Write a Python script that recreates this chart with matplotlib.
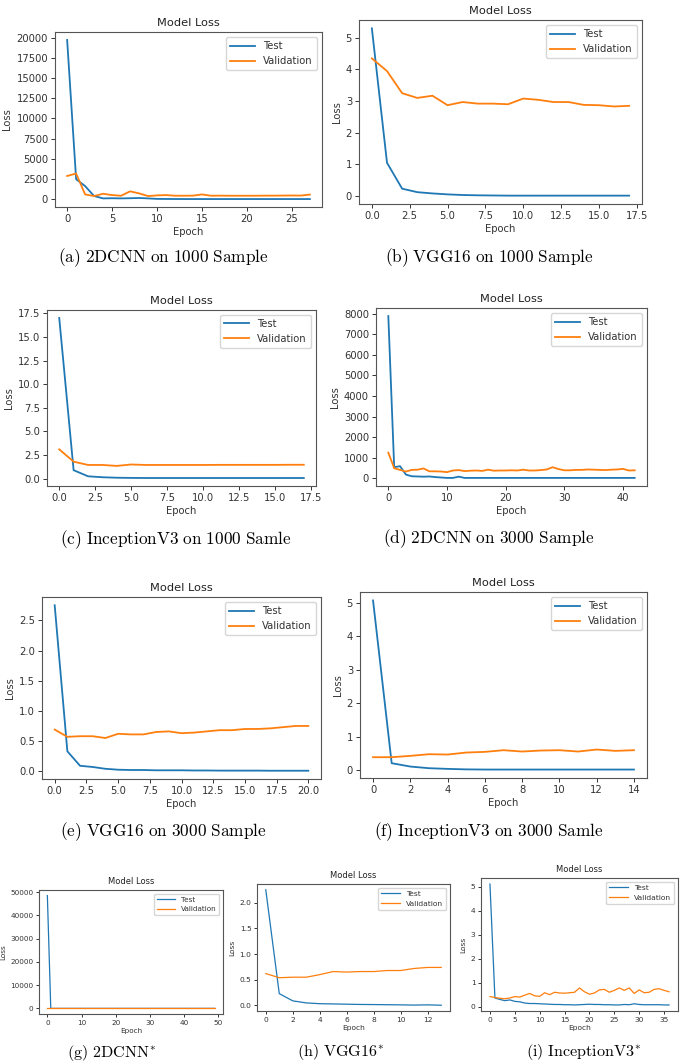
import matplotlib
matplotlib.use("Agg")
import matplotlib.pyplot as plt
from matplotlib.ticker import MultipleLocator

W, H = 685, 1062

# ---------------- data ----------------
a_test = [19700, 2500, 1650, 420, 130, 150, 130, 150, 180, 130, 70, 60, 55, 50, 50, 50, 50, 50, 50, 50, 50, 50, 50, 50, 50, 50, 50, 50]
a_val = [2900, 3200, 620, 420, 700, 540, 460, 1000, 750, 420, 500, 540, 460, 460, 470, 620, 460, 470, 460, 460, 460, 460, 470, 470, 480, 490, 480, 600]

b_test = [5.3, 1.05, 0.23, 0.12, 0.08, 0.05, 0.03, 0.02, 0.015, 0.01, 0.01, 0.01, 0.01, 0.01, 0.01, 0.01, 0.01, 0.01]
b_val = [4.35, 3.95, 3.25, 3.1, 3.17, 2.87, 2.97, 2.92, 2.92, 2.9, 3.08, 3.04, 2.97, 2.97, 2.88, 2.87, 2.83, 2.85]

c_test = [17.0, 0.9, 0.25, 0.15, 0.1, 0.08, 0.07, 0.07, 0.07, 0.07, 0.07, 0.07, 0.07, 0.07, 0.07, 0.07, 0.07, 0.07]
c_val = [3.1, 1.8, 1.45, 1.45, 1.35, 1.5, 1.45, 1.45, 1.45, 1.45, 1.45, 1.46, 1.46, 1.46, 1.46, 1.46, 1.47, 1.47]

d_test = [7885, 540, 590, 180, 100, 90, 80, 90, 60, 40, 20, 20, 80, 20, 20, 20, 20, 20, 20, 20, 20, 20, 20, 20, 20, 20, 20, 20, 20, 20, 20, 20, 20, 20, 20, 20, 20, 20, 20, 20, 20, 20, 20]
d_val = [1250, 490, 410, 330, 410, 420, 480, 340, 340, 330, 300, 380, 400, 350, 370, 380, 360, 420, 370, 380, 380, 390, 380, 420, 380, 380, 400, 430, 540, 450, 390, 390, 410, 410, 430, 420, 410, 400, 420, 430, 460, 380, 390]

e_test = [2.75, 0.33, 0.09, 0.07, 0.04, 0.025, 0.02, 0.02, 0.015, 0.015, 0.015, 0.012, 0.012, 0.01, 0.01, 0.01, 0.01, 0.008, 0.008, 0.008, 0.008]
e_val = [0.69, 0.57, 0.58, 0.58, 0.55, 0.62, 0.61, 0.61, 0.65, 0.66, 0.63, 0.64, 0.66, 0.68, 0.68, 0.70, 0.70, 0.71, 0.73, 0.75, 0.75]

f_test = [5.08, 0.2, 0.1, 0.05, 0.03, 0.015, 0.01, 0.01, 0.01, 0.01, 0.01, 0.01, 0.01, 0.01, 0.01]
f_val = [0.38, 0.38, 0.42, 0.47, 0.46, 0.52, 0.54, 0.59, 0.55, 0.58, 0.59, 0.55, 0.61, 0.57, 0.59]

g_test = [48500] + [50] * 49
g_val = [60] * 50

h_test = [2.25, 0.23, 0.09, 0.05, 0.035, 0.03, 0.025, 0.02, 0.018, 0.015, 0.012, 0.008, 0.012, 0.005]
h_val = [0.62, 0.54, 0.55, 0.55, 0.60, 0.66, 0.65, 0.66, 0.66, 0.68, 0.68, 0.72, 0.74, 0.74]

i_test = [5.12, 0.36, 0.30, 0.25, 0.28, 0.22, 0.20, 0.15, 0.13, 0.13, 0.12, 0.11, 0.10, 0.09, 0.09, 0.08, 0.08, 0.07, 0.08, 0.09, 0.10, 0.09, 0.09, 0.08, 0.08, 0.07, 0.07, 0.09, 0.08, 0.12, 0.09, 0.08, 0.08, 0.08, 0.08, 0.07, 0.07]
i_val = [0.42, 0.38, 0.35, 0.33, 0.36, 0.42, 0.40, 0.48, 0.55, 0.45, 0.43, 0.58, 0.50, 0.60, 0.57, 0.56, 0.58, 0.60, 0.78, 0.62, 0.52, 0.57, 0.70, 0.72, 0.60, 0.68, 0.78, 0.68, 0.78, 0.55, 0.70, 0.58, 0.60, 0.72, 0.75, 0.68, 0.62]

captions = ["(a) 2DCNN on 1000 Sample", "(b) VGG16 on 1000 Sample",
            "(c) InceptionV3 on 1000 Samle", "(d) 2DCNN on 3000 Sample",
            "(e) VGG16 on 3000 Sample", "(f) InceptionV3 on 3000 Samle",
            "(g) 2DCNN*", "(h) VGG16*", "(i) InceptionV3*"]

# ---------------- layout (pixels) ----------------
panels = [
    (a_test, a_val, (55, 32, 322, 207), 2500, (163, 258), 7.2, 8.2),
    (b_test, b_val, (359, 20, 642, 204), 1, (489, 258), 7.2, 8.2),
    (c_test, c_val, (47, 310, 316, 486), 2.5, (176, 540), 7.2, 8.2),
    (d_test, d_val, (376, 308, 647, 486), 1000, (489, 539), 7.2, 8.2),
    (e_test, e_val, (42, 597, 321, 779), 0.5, (163, 832), 7.2, 8.2),
    (f_test, f_val, (360, 592, 647, 778), 1, (489, 832), 7.2, 8.2),
    (g_test, g_val, (39, 890, 223, 1014), 10000, (112, 1053), 5.2, 6.0),
    (h_test, h_val, (257, 884, 450, 1011), 0.5, (341, 1052), 5.4, 6.0),
    (i_test, i_val, (481, 878, 678, 1011), 1, (584, 1052), 5.4, 6.0),
]

plt.rcParams['mathtext.fontset'] = 'cm'
fig = plt.figure(figsize=(W / 100, H / 100), dpi=100)

for k, (tst, val, (l, t, r, b), step, (cx, cy), fs, tfs) in enumerate(panels):
    ax = fig.add_axes([l / W, 1 - b / H, (r - l) / W, (b - t) / H])
    lw = 1.3 if fs > 6 else 0.9
    ax.plot(range(len(tst)), tst, color='#1f77b4', lw=lw, label='Test')
    ax.plot(range(len(val)), val, color='#ff7f0e', lw=lw, label='Validation')
    ax.yaxis.set_major_locator(MultipleLocator(step))
    ax.set_title('Model Loss', fontsize=tfs, color='#222222', pad=4)
    ax.set_xlabel('Epoch', fontsize=fs, color='#333333', labelpad=2)
    ax.set_ylabel('Loss', fontsize=fs, color='#333333', labelpad=3)
    ax.tick_params(labelsize=fs, length=3 if fs > 6 else 2, width=0.7, pad=2, colors='#333333')
    for s in ax.spines.values():
        s.set_color('#555555')
        s.set_linewidth(0.8)
    leg = ax.legend(loc='upper right', fontsize=fs, handlelength=2.5)
    for txt in leg.get_texts():
        txt.set_color('#333333')
    cap = captions[k].replace(' ', r'\ ').replace('*', '^{*}')
    fig.text(cx / W, 1 - cy / H, r'$\mathrm{' + cap + '}$', ha='center', va='center',
             fontsize=12.4 if k < 6 else 11.6)

fig.savefig('out.png', dpi=100)
